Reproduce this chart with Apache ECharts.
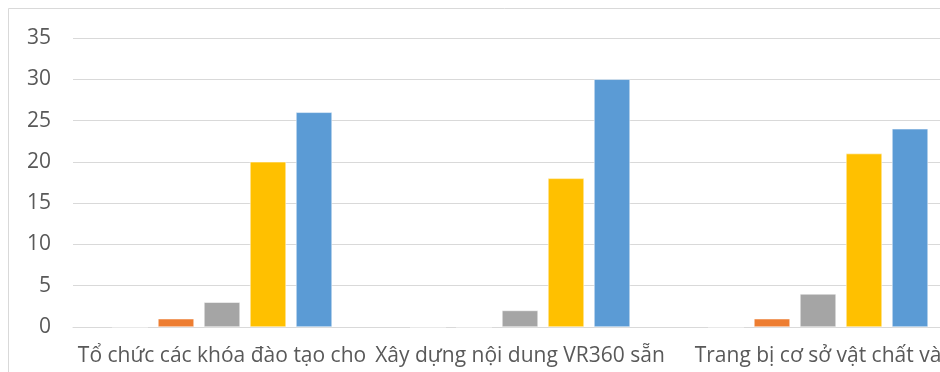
<!DOCTYPE html>
<html>
<head>
<meta charset="utf-8">
<script src="https://cdn.jsdelivr.net/npm/echarts@6/dist/echarts.min.js"></script>
<style>
  html, body { margin: 0; padding: 0; background: #fff; overflow: hidden; width: 940px; height: 372px; }
  #chart { width: 1000px; height: 400px; }
</style>
</head>
<body>
<div id="chart"></div>
<script>
// Categories (first line of each wrapped label)
const categories = [
  'Tổ chức các khóa đào tạo cho',
  'Xây dựng nội dung VR360 sẵn',
  'Trang bị cơ sở vật chất và'
];
// Five response levels, one value per category
const level1 = [0, 0, 0];
const level2 = [1, 0, 1];
const level3 = [3, 2, 4];
const level4 = [20, 18, 21];
const level5 = [26, 30, 24];
const yTicks = [0, 5, 10, 15, 20, 25, 30, 35];

const colors = ['#4472C4', '#ED7D31', '#A5A5A5', '#FFC000', '#5B9BD5'];
const levels = [level1, level2, level3, level4, level5];

const chart = echarts.init(document.getElementById('chart'), null, { renderer: 'canvas' });
const font = 'Open Sans';

chart.setOption({
  animation: false,
  backgroundColor: '#fff',
  graphic: [{
    type: 'rect',
    shape: { x: 8.5, y: 8.5, width: 1100, height: 500 },
    style: { fill: 'none', stroke: '#D9D9D9', lineWidth: 1 },
    silent: true,
    z: -1
  }],
  grid: { left: 73, right: 33, top: 38, bottom: 73, containLabel: false },
  xAxis: {
    type: 'category',
    data: categories,
    axisLine: { show: true, lineStyle: { color: '#D9D9D9', width: 1 } },
    axisTick: { show: false },
    axisLabel: { color: '#595959', fontFamily: font, fontSize: 21, margin: 19, interval: 0 }
  },
  yAxis: {
    type: 'value',
    min: yTicks[0],
    max: yTicks[yTicks.length - 1],
    interval: yTicks[1] - yTicks[0],
    axisLine: { show: false },
    axisTick: { show: false },
    splitLine: { lineStyle: { color: '#D9D9D9', width: 1 } },
    axisLabel: { color: '#595959', fontFamily: font, fontSize: 21, margin: 22 }
  },
  series: levels.map((vals, i) => ({
    type: 'bar',
    data: vals,
    barWidth: 36,
    barGap: '27.8%',
    itemStyle: { color: colors[i], borderColor: '#fff', borderWidth: 0.5 }
  }))
});
</script>
</body>
</html>
